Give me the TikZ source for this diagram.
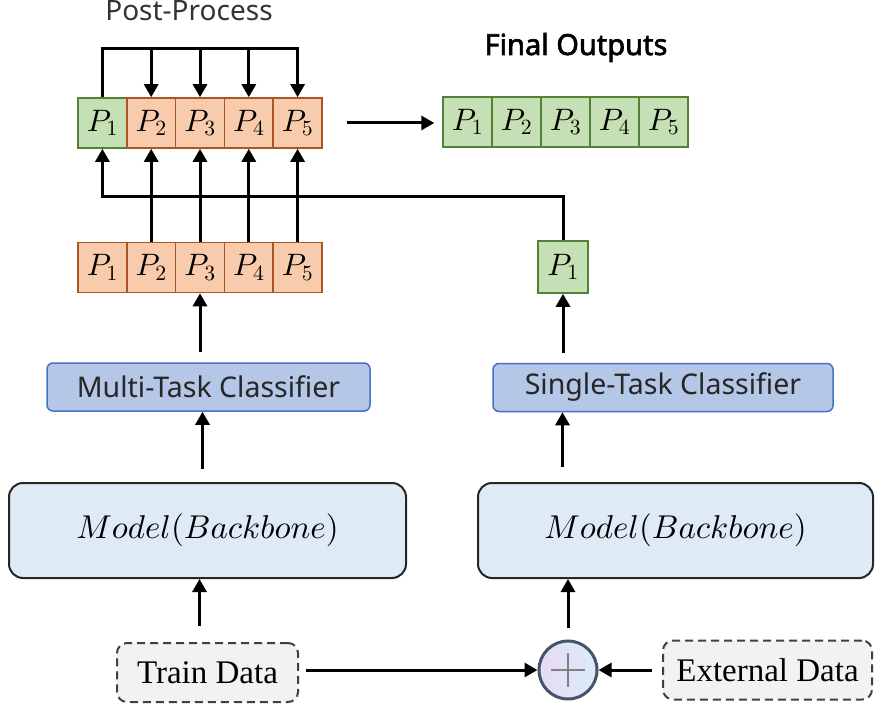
\RequirePackage{fix-cm}
\documentclass[tikz,border=0pt]{standalone}
\usepackage{fontspec}
\setmainfont{Liberation Serif}
\newfontfamily\yahei{Noto Sans}
\newfontfamily\yaheib{Noto Sans}[FakeBold=2.2]
\usetikzlibrary{arrows.meta,calc}
\DeclareFontShape{OML}{cmm}{m}{it}{<->cmmi10}{}
\DeclareFontShape{OT1}{cmr}{m}{n}{<->cmr10}{}
\definecolor{orfill}{HTML}{F8CBAD}
\definecolor{ordraw}{RGB}{170,85,35}
\definecolor{grfill}{HTML}{C5E0B4}
\definecolor{grdraw}{HTML}{548235}
\definecolor{clfill}{HTML}{B4C7E7}
\definecolor{cldraw}{HTML}{4472C4}
\definecolor{mdfill}{HTML}{DEEBF7}
\definecolor{mddraw}{HTML}{262626}
\definecolor{dtfill}{HTML}{F2F2F2}
\definecolor{dtdraw}{HTML}{404040}
\definecolor{crdraw}{HTML}{44546A}
\tikzset{
  cell/.style={draw, line width=1.6pt, minimum width=48.8pt, minimum height=50pt, inner sep=0pt, font=\fontsize{31}{38}\selectfont},
  orcell/.style={cell, fill=orfill, draw=ordraw},
  grcell/.style={cell, fill=grfill, draw=grdraw},
  clbox/.style={draw=cldraw, fill=clfill, line width=1.5pt, rounded corners=6pt, minimum width=#1, minimum height=48pt, inner sep=0pt, font=\yahei\fontsize{28.5}{34}\selectfont, text=black!85},
  mdbox/.style={draw=mddraw, fill=mdfill, line width=2pt, rounded corners=14pt, minimum width=#1, minimum height=95pt, inner sep=0pt, font=\fontsize{33}{40}\selectfont},
  dtbox/.style={draw=dtdraw, fill=dtfill, line width=2pt, dash pattern=on 8pt off 5pt, rounded corners=10pt, minimum width=#1, minimum height=59pt, inner sep=0pt, font=\fontsize{33}{40}\selectfont},
  arr/.style={line width=3pt, -{Triangle[length=13pt,width=14pt]}},
  ln/.style={line width=3pt}
}
\begin{document}
\begin{tikzpicture}[x=1pt,y=-1pt]
\useasboundingbox (0,0) rectangle (875,708);
% top row (post-process)
\node[grcell] (T1) at (102.4,123) {$P_1$};
\node[orcell] (T2) at (151.2,123) {$P_2$};
\node[orcell] (T3) at (200.0,123) {$P_3$};
\node[orcell] (T4) at (248.8,123) {$P_4$};
\node[orcell] (T5) at (297.6,123) {$P_5$};
\node[font=\yahei\fontsize{28}{34}\selectfont, text=black!80, anchor=base] (pp) at (189,21) {Post-Process};
% final outputs
\node[grcell] (F1) at (467.5,122) {$P_1$};
\node[grcell] (F2) at (516.5,122) {$P_2$};
\node[grcell] (F3) at (565.5,122) {$P_3$};
\node[grcell] (F4) at (614.5,122) {$P_4$};
\node[grcell] (F5) at (663.5,122) {$P_5$};
\node[font=\yaheib\fontsize{29}{34}\selectfont, anchor=base] (fo) at (576,55) {Final Outputs};
% second row
\node[orcell] (M1) at (102.4,267.5) {$P_1$};
\node[orcell] (M2) at (151.2,267.5) {$P_2$};
\node[orcell] (M3) at (200.0,267.5) {$P_3$};
\node[orcell] (M4) at (248.8,267.5) {$P_4$};
\node[orcell] (M5) at (297.6,267.5) {$P_5$};
\node[grcell, minimum width=50pt, minimum height=52pt] (S1) at (563,267) {$P_1$};
% classifiers
\node[clbox=323pt] (MTC) at (208.5,387) {Multi-Task Classifier};
\node[clbox=340pt] (STC) at (663,387.5) {Single-Task Classifier};
% models
\node[mdbox=397pt] (LM) at (207.5,530.5) {$Model(Backbone)$};
\node[mdbox=395pt] (RM) at (675.5,530.5) {$Model(Backbone)$};
% data
\node[dtbox=181pt] (TD) at (207.5,672.5) {Train Data};
\node[dtbox=209pt] (ED) at (767.5,670) {External Data};
\node[circle, draw=crdraw, line width=3pt, minimum size=58pt, inner sep=0pt,
      left color={rgb,255:red,232;green,218;blue,245}, right color={rgb,255:red,218;green,236;blue,248}] (C) at (568,670) {};
\draw[line width=1.5pt, black!50] ($(C.center)+(-17,0)$) -- ($(C.center)+(17,0)$);
\draw[line width=1.5pt, black!50] ($(C.center)+(0,-17)$) -- ($(C.center)+(0,17)$);
% coordinates for loops
\coordinate (loopY) at (0,49);
\coordinate (fbY) at (0,197);
% feedback from single P1 to top P1
\draw[arr] (S1.north) -- (S1.north |- fbY) -| (T1.south);
% post-process loop
\draw[arr] (T1.north) -- (T1.north |- loopY) -| (T5.north);
\draw[arr] (T2.north |- loopY) -- (T2.north);
\draw[arr] (T3.north |- loopY) -- (T3.north);
\draw[arr] (T4.north |- loopY) -- (T4.north);
% second row up to first row
\draw[arr] (M2.north) -- (T2.south);
\draw[arr] (M3.north) -- (T3.south);
\draw[arr] (M4.north) -- (T4.south);
\draw[arr] (M5.north) -- (T5.south);
% to final outputs
\draw[arr, shorten <=24pt, shorten >=8pt] (T5.east) -- (F1.west |- T5.east);
% classifier to row
\draw[arr] ([yshift=10pt]MTC.north -| M3.south) -- (M3.south);
\draw[arr] ([yshift=10pt]STC.north -| S1.south) -- (S1.south);
% model to classifier
\draw[arr] ([xshift=-5pt,yshift=13pt]LM.north) -- ([xshift=-5pt]LM.north |- MTC.south);
\draw[arr] ([xshift=-113pt,yshift=15pt]RM.north) -- ([xshift=-113pt]RM.north |- STC.south);
% data to model
\draw[arr] ([xshift=-8pt,yshift=16pt]TD.north) -- ([xshift=-8pt]TD.north |- LM.south);
\draw[arr] ([yshift=12pt]C.north) -- (C.north |- RM.south);
\draw[arr, shorten <=7pt] (TD.east |- C.west) -- (C.west);
\draw[arr, shorten <=10pt] (ED.west) -- (C.east);
\end{tikzpicture}
\end{document}
